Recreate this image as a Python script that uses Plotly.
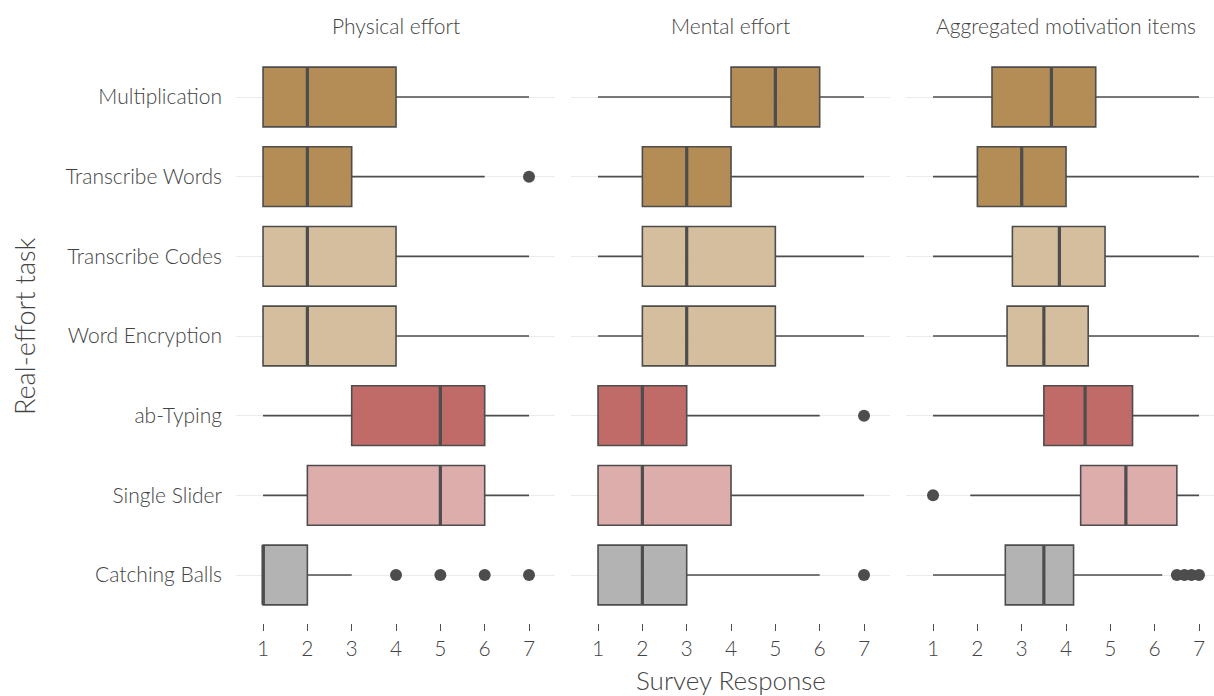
import plotly.graph_objects as go

# ---------------- data ----------------
categories = ["Multiplication", "Transcribe Words", "Transcribe Codes", "Word Encryption",
              "ab-Typing", "Single Slider", "Catching Balls"]
panels = ["Physical effort", "Mental effort", "Aggregated motivation items"]

phys_lo = [1, 1, 1, 1, 1, 1, 1]
phys_q1 = [1, 1, 1, 1, 3, 2, 1]
phys_med = [2, 2, 2, 2, 5, 5, 1]
phys_q3 = [4, 3, 4, 4, 6, 6, 2]
phys_hi = [7, 6, 7, 7, 7, 7, 3]
phys_out = {"Transcribe Words": [7], "Catching Balls": [4, 5, 6, 7]}

ment_lo = [1, 1, 1, 1, 1, 1, 1]
ment_q1 = [4, 2, 2, 2, 1, 1, 1]
ment_med = [5, 3, 3, 3, 2, 2, 2]
ment_q3 = [6, 4, 5, 5, 3, 4, 3]
ment_hi = [7, 7, 7, 7, 6, 7, 6]
ment_out = {"ab-Typing": [7], "Catching Balls": [7]}

agg_lo = [1, 1, 1, 1, 1, 1.84, 1]
agg_q1 = [2.33, 2.0, 2.79, 2.67, 3.5, 4.33, 2.63]
agg_med = [3.67, 3.0, 3.85, 3.5, 4.43, 5.35, 3.5]
agg_q3 = [4.67, 4.0, 4.88, 4.5, 5.5, 6.5, 4.17]
agg_hi = [7, 7, 7, 7, 7, 7, 6.17]
agg_out = {"Single Slider": [1], "Catching Balls": [6.5, 6.67, 6.83, 7]}

x_ticks = [1, 2, 3, 4, 5, 6, 7]

# ---------------- styles ----------------
fills = {
    "Multiplication": "rgba(171,127,68,0.9)",
    "Transcribe Words": "rgba(171,127,68,0.9)",
    "Transcribe Codes": "rgba(208,183,146,0.9)",
    "Word Encryption": "rgba(208,183,146,0.9)",
    "ab-Typing": "rgba(185,91,88,0.9)",
    "Single Slider": "rgba(217,164,163,0.9)",
    "Catching Balls": "rgba(171,171,171,0.9)",
}
LINE = "#4D4D4D"
TXT = "#444444"
FONT = "Lato Light, Lato"
W, H = 1214, 696

stats = [
    (phys_lo, phys_q1, phys_med, phys_q3, phys_hi, phys_out),
    (ment_lo, ment_q1, ment_med, ment_q3, ment_hi, ment_out),
    (agg_lo, agg_q1, agg_med, agg_q3, agg_hi, agg_out),
]

fig = go.Figure()
axis_ids = ["", "2", "3"]
for p, (lo, q1, med, q3, hi, outs) in enumerate(stats):
    xa = "x" + axis_ids[p]
    ya = "y" + axis_ids[p]
    for i, cat in enumerate(categories):
        fig.add_trace(go.Box(
            orientation="h", y=[cat], q1=[q1[i]], median=[med[i]], q3=[q3[i]],
            lowerfence=[lo[i]], upperfence=[hi[i]],
            fillcolor=fills[cat], line=dict(color=LINE, width=1.6),
            width=0.75, whiskerwidth=0, boxpoints=False,
            xaxis=xa, yaxis=ya, showlegend=False, hoverinfo="skip"))
        # thicker median line
        fig.add_trace(go.Box(
            orientation="h", y=[cat], q1=[med[i]], median=[med[i]], q3=[med[i]],
            lowerfence=[med[i]], upperfence=[med[i]],
            fillcolor="rgba(0,0,0,0)", line=dict(color=LINE, width=3.2),
            width=0.75, whiskerwidth=0, boxpoints=False,
            xaxis=xa, yaxis=ya, showlegend=False, hoverinfo="skip"))
    ox, oy = [], []
    for cat, vals in outs.items():
        ox += vals
        oy += [cat] * len(vals)
    fig.add_trace(go.Scatter(
        x=ox, y=oy, mode="markers", marker=dict(color=LINE, size=12),
        xaxis=xa, yaxis=ya, showlegend=False, hoverinfo="skip"))

# pixel layout
px_per_unit = 44.33
xmin = 0.39
left_px = [236, 571, 906]
panel_w = 319
plot_top, plot_bot = 49.2, 622.8
ydom = [1 - plot_bot / H, 1 - plot_top / H]

layout = dict(
    width=W, height=H, margin=dict(l=0, r=0, t=0, b=0),
    paper_bgcolor="white", plot_bgcolor="white",
    boxmode="overlay", showlegend=False,
    font=dict(family=FONT, color=TXT, weight=300),
)
annotations = []
for p in range(3):
    l = left_px[p]
    r = min(l + panel_w, W)
    xmax = xmin + (r - l) / px_per_unit
    key = "xaxis" + axis_ids[p]
    layout[key] = dict(
        domain=[l / W, r / W], range=[xmin, xmax], anchor="y" + axis_ids[p],
        tickmode="array", tickvals=x_ticks, ticktext=[str(t) for t in x_ticks],
        ticks="outside", ticklen=7, tickwidth=1.3, tickcolor=LINE,
        showgrid=False, zeroline=False, showline=False,
        tickfont=dict(family=FONT, size=21, color=TXT, weight=300),
    )
    ykey = "yaxis" + axis_ids[p]
    layout[ykey] = dict(
        domain=ydom, anchor="x" + axis_ids[p], type="category",
        categoryorder="array", categoryarray=categories[::-1],
        range=[-0.6, 6.6], showgrid=True, gridcolor="#EBEBEB", gridwidth=1.2,
        zeroline=False, showline=False, ticks="",
        showticklabels=(p == 0), ticklabelstandoff=13,
        tickfont=dict(family=FONT, size=21, color=TXT, weight=300),
    )
    if p > 0:
        layout[ykey]["matches"] = "y"
    annotations.append(dict(
        text=panels[p], x=(l + l + panel_w) / 2 / W, y=1 - 26 / H,
        xref="paper", yref="paper", showarrow=False, xanchor="center", yanchor="middle",
        font=dict(family=FONT, size=21, color=TXT, weight=300)))

annotations.append(dict(
    text="Survey Response", x=730.5 / W, y=1 - 680 / H, xref="paper", yref="paper",
    showarrow=False, xanchor="center", yanchor="middle",
    font=dict(family=FONT, size=26, color=TXT, weight=300)))
annotations.append(dict(
    text="Real-effort task", x=24 / W, y=1 - 327 / H, xref="paper", yref="paper",
    showarrow=False, xanchor="center", yanchor="middle", textangle=-90,
    font=dict(family=FONT, size=27, color=TXT, weight=300)))
layout["annotations"] = annotations

fig.update_layout(**layout)
fig.write_html("out.html", config={"displayModeBar": False},
               post_script="document.body.style.margin='0';document.body.style.overflow='hidden';")
